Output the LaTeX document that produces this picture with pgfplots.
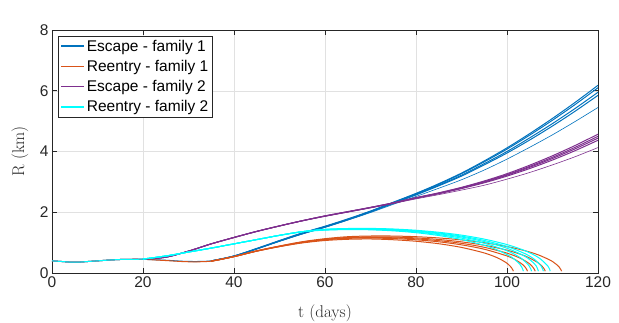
\documentclass[border=0pt]{standalone}
\usepackage{pgfplots}
\pgfplotsset{compat=1.18}
\usepackage{fontspec}
\newfontfamily\arial{Liberation Sans}
\definecolor{escblue}{RGB}{0,114,189}
\definecolor{reeorange}{RGB}{217,83,25}
\definecolor{escpurple}{RGB}{126,47,142}
\definecolor{reecyan}{RGB}{0,255,255}
\definecolor{axc}{RGB}{38,38,38}
\definecolor{gridc}{RGB}{225,225,225}
\tikzset{
  esc1/.style={draw=escblue, line width=1pt},
  ree1/.style={draw=reeorange, line width=1pt},
  esc2/.style={draw=escpurple, line width=1pt},
  ree2/.style={draw=reecyan, line width=1pt},
}
\begin{document}
\begin{tikzpicture}
\useasboundingbox (-52pt,-49pt) rectangle (567pt,273pt);
\begin{axis}[
  at={(0,0)}, anchor=south west,
  scale only axis, width=546pt, height=243pt,
  xmin=0, xmax=120, ymin=0, ymax=8,
  xtick={0,20,...,120}, ytick={0,2,...,8},
  grid=major, major grid style={gridc, line width=0.5pt},
  axis line style={axc, line width=0.6pt},
  tick style={axc, line width=0.6pt},
  tick align=inside, major tick length=5pt,
  tick label style={font=\arial\fontsize{15.5}{17}\selectfont, text=axc},
  /pgf/number format/assume math mode=true,
  xlabel={t (days)}, ylabel={R (km)},
  label style={font=\fontsize{17}{19}\selectfont, text=axc},
  xlabel style={at={(axis description cs:0.5,0)}, anchor=north, yshift=-28pt},
  ylabel style={at={(axis description cs:0,0.5)}, anchor=south, yshift=20pt},
  legend style={at={(0.011,0.977)}, anchor=north west,
    font=\arial\fontsize{15.5}{17}\selectfont, draw=axc, fill=white,
    inner sep=2pt, row sep=3.5pt},
  legend cell align=left,
  legend image code/.code={\draw[line width=1.7pt, #1] (0pt,0pt) -- (23pt,0pt);},
]
\addlegendimage{draw=escblue}
\addlegendentry{Escape - family 1}
\addlegendimage{draw=reeorange}
\addlegendentry{Reentry - family 1}
\addlegendimage{draw=escpurple}
\addlegendentry{Escape - family 2}
\addlegendimage{draw=reecyan}
\addlegendentry{Reentry - family 2}
% escape family 1
\addplot[esc1, smooth, forget plot] coordinates {(0,0.40)(2,0.38)(4,0.36)(6,0.36)(8,0.38)(10,0.40)(13,0.43)(16,0.45)(20,0.45)(25,0.42)(30,0.38)(35,0.40)(40,0.56)(45,0.81)(50,1.07)(55,1.32)(60,1.54)(65,1.78)(70,2.04)(75,2.33)(80,2.62)(85,2.94)(90,3.29)(95,3.69)(100,4.12)(105,4.59)(110,5.09)(115,5.62)(120,6.18)};
\addplot[esc1, smooth, forget plot] coordinates {(35,0.40)(40,0.56)(45,0.80)(50,1.06)(55,1.31)(60,1.53)(65,1.77)(70,2.03)(75,2.32)(80,2.61)(85,2.92)(90,3.27)(95,3.66)(100,4.08)(105,4.54)(110,5.03)(115,5.55)(120,6.10)};
\addplot[esc1, smooth, forget plot] coordinates {(35,0.40)(40,0.56)(45,0.80)(50,1.05)(55,1.30)(60,1.52)(65,1.76)(70,2.02)(75,2.30)(80,2.59)(85,2.89)(90,3.22)(95,3.60)(100,4.00)(105,4.45)(110,4.92)(115,5.42)(120,5.95)};
\addplot[esc1, smooth, forget plot] coordinates {(35,0.40)(40,0.55)(45,0.79)(50,1.05)(55,1.29)(60,1.51)(65,1.75)(70,2.01)(75,2.29)(80,2.57)(85,2.87)(90,3.19)(95,3.56)(100,3.95)(105,4.38)(110,4.84)(115,5.33)(120,5.85)};
\addplot[esc1, smooth, forget plot, line width=0.6pt] coordinates {(35,0.40)(40,0.55)(45,0.79)(50,1.04)(55,1.28)(60,1.50)(65,1.74)(70,1.99)(75,2.26)(80,2.52)(85,2.79)(90,3.07)(95,3.39)(100,3.75)(105,4.14)(110,4.55)(115,4.99)(120,5.45)};
% reentry family 1
\addplot[ree1, smooth, forget plot] coordinates {(0,0.40)(2,0.38)(4,0.36)(6,0.36)(8,0.38)(10,0.40)(13,0.43)(16,0.45)(20,0.45)(25,0.41)(30,0.37)(35,0.39)(40,0.54)(45,0.72)(50,0.87)(55,0.99)(60,1.07)(65,1.11)(70,1.12)(75,1.095)(80,1.045)(85,0.964)(90,0.842)(95,0.660)(98,0.493)(100,0.321)(101,0.173)(101.4,0.06)};
\addplot[ree1, smooth, forget plot] coordinates {(35,0.39)(40,0.54)(45,0.72)(50,0.87)(55,1.00)(60,1.09)(65,1.14)(70,1.15)(75,1.134)(80,1.093)(85,1.027)(90,0.927)(95,0.783)(100,0.561)(102,0.423)(103.5,0.27)(104.2,0.15)(104.5,0.06)};
\addplot[ree1, smooth, forget plot] coordinates {(35,0.39)(40,0.54)(45,0.72)(50,0.88)(55,1.01)(60,1.10)(65,1.155)(70,1.17)(75,1.159)(80,1.124)(85,1.065)(90,0.976)(95,0.846)(100,0.654)(103,0.48)(105,0.298)(105.9,0.149)(106.2,0.06)};
\addplot[ree1, smooth, forget plot] coordinates {(35,0.39)(40,0.54)(45,0.73)(50,0.88)(55,1.02)(60,1.11)(65,1.17)(70,1.19)(75,1.183)(80,1.155)(85,1.104)(90,1.025)(95,0.913)(100,0.752)(104,0.56)(107,0.321)(108.1,0.151)(108.4,0.06)};
\addplot[ree1, smooth, forget plot] coordinates {(35,0.39)(40,0.54)(45,0.73)(50,0.89)(55,1.03)(60,1.13)(65,1.195)(70,1.218)(75,1.217)(80,1.195)(85,1.154)(90,1.09)(95,0.998)(100,0.871)(104,0.732)(107,0.59)(110,0.38)(111.5,0.19)(112,0.06)};
% escape family 2
\addplot[esc2, smooth, forget plot] coordinates {(0,0.40)(2,0.38)(4,0.36)(6,0.36)(8,0.38)(10,0.40)(13,0.43)(16,0.45)(20,0.46)(25,0.52)(30,0.72)(35,0.96)(40,1.17)(45,1.37)(50,1.55)(55,1.72)(60,1.88)(65,2.02)(70,2.16)(75,2.31)(80,2.48)(85,2.64)(90,2.82)(95,3.03)(100,3.27)(105,3.55)(110,3.86)(115,4.20)(120,4.57)};
\addplot[esc2, smooth, forget plot] coordinates {(20,0.46)(25,0.52)(30,0.72)(35,0.96)(40,1.17)(45,1.37)(50,1.55)(55,1.72)(60,1.88)(65,2.02)(70,2.16)(75,2.31)(80,2.48)(85,2.63)(90,2.81)(95,3.01)(100,3.24)(105,3.51)(110,3.81)(115,4.14)(120,4.50)};
\addplot[esc2, smooth, forget plot] coordinates {(20,0.46)(25,0.52)(30,0.72)(35,0.96)(40,1.17)(45,1.37)(50,1.55)(55,1.72)(60,1.87)(65,2.01)(70,2.15)(75,2.30)(80,2.47)(85,2.62)(90,2.79)(95,2.99)(100,3.22)(105,3.48)(110,3.77)(115,4.09)(120,4.44)};
\addplot[esc2, smooth, forget plot] coordinates {(20,0.46)(25,0.52)(30,0.72)(35,0.96)(40,1.17)(45,1.37)(50,1.55)(55,1.72)(60,1.87)(65,2.01)(70,2.15)(75,2.30)(80,2.46)(85,2.61)(90,2.78)(95,2.97)(100,3.19)(105,3.44)(110,3.72)(115,4.03)(120,4.37)};
\addplot[esc2, smooth, forget plot, line width=0.6pt] coordinates {(20,0.46)(25,0.52)(30,0.72)(35,0.96)(40,1.17)(45,1.37)(50,1.55)(55,1.72)(60,1.87)(65,2.01)(70,2.15)(75,2.29)(80,2.44)(85,2.58)(90,2.73)(95,2.89)(100,3.09)(105,3.31)(110,3.56)(115,3.83)(120,4.13)};
% reentry family 2
\addplot[ree2, smooth, forget plot] coordinates {(0,0.40)(2,0.38)(4,0.36)(6,0.36)(8,0.38)(10,0.40)(13,0.43)(16,0.45)(20,0.46)(25,0.56)(30,0.69)(35,0.82)(40,0.96)(45,1.10)(50,1.24)(55,1.36)(60,1.41)(65,1.43)(70,1.422)(75,1.388)(80,1.327)(85,1.234)(90,1.101)(95,0.911)(98,0.751)(101,0.522)(102.8,0.292)(103.3,0.18)(103.6,0.06)};
\addplot[ree2, smooth, forget plot] coordinates {(20,0.46)(25,0.56)(30,0.69)(35,0.82)(40,0.96)(45,1.10)(50,1.24)(55,1.36)(60,1.42)(65,1.439)(70,1.434)(75,1.405)(80,1.351)(85,1.266)(90,1.148)(95,0.979)(100,0.733)(103,0.498)(104.8,0.25)(105.2,0.144)(105.4,0.06)};
\addplot[ree2, smooth, forget plot] coordinates {(20,0.46)(25,0.56)(30,0.69)(35,0.82)(40,0.96)(45,1.10)(50,1.24)(55,1.36)(60,1.43)(65,1.448)(70,1.446)(75,1.421)(80,1.371)(85,1.294)(90,1.185)(95,1.033)(100,0.815)(104,0.544)(106,0.309)(106.6,0.183)(106.9,0.06)};
\addplot[ree2, smooth, forget plot] coordinates {(20,0.46)(25,0.56)(30,0.69)(35,0.82)(40,0.96)(45,1.10)(50,1.24)(55,1.36)(60,1.43)(65,1.457)(70,1.457)(75,1.435)(80,1.389)(85,1.317)(90,1.214)(95,1.072)(100,0.872)(104,0.633)(106,0.452)(107.5,0.228)(108,0.06)};
\addplot[ree2, smooth, forget plot] coordinates {(20,0.46)(25,0.56)(30,0.69)(35,0.82)(40,0.96)(45,1.10)(50,1.24)(55,1.36)(60,1.44)(65,1.465)(70,1.468)(75,1.449)(80,1.407)(85,1.341)(90,1.247)(95,1.116)(100,0.936)(104,0.732)(107,0.501)(109,0.226)(109.5,0.06)};
\node[anchor=south west, inner sep=0pt, text=axc, font=\arial\fontsize{15.5}{17}\selectfont] at ([xshift=3pt,yshift=4pt]rel axis cs:0,1) {×10\textsuperscript{6}};
\end{axis}
\end{tikzpicture}
\end{document}
